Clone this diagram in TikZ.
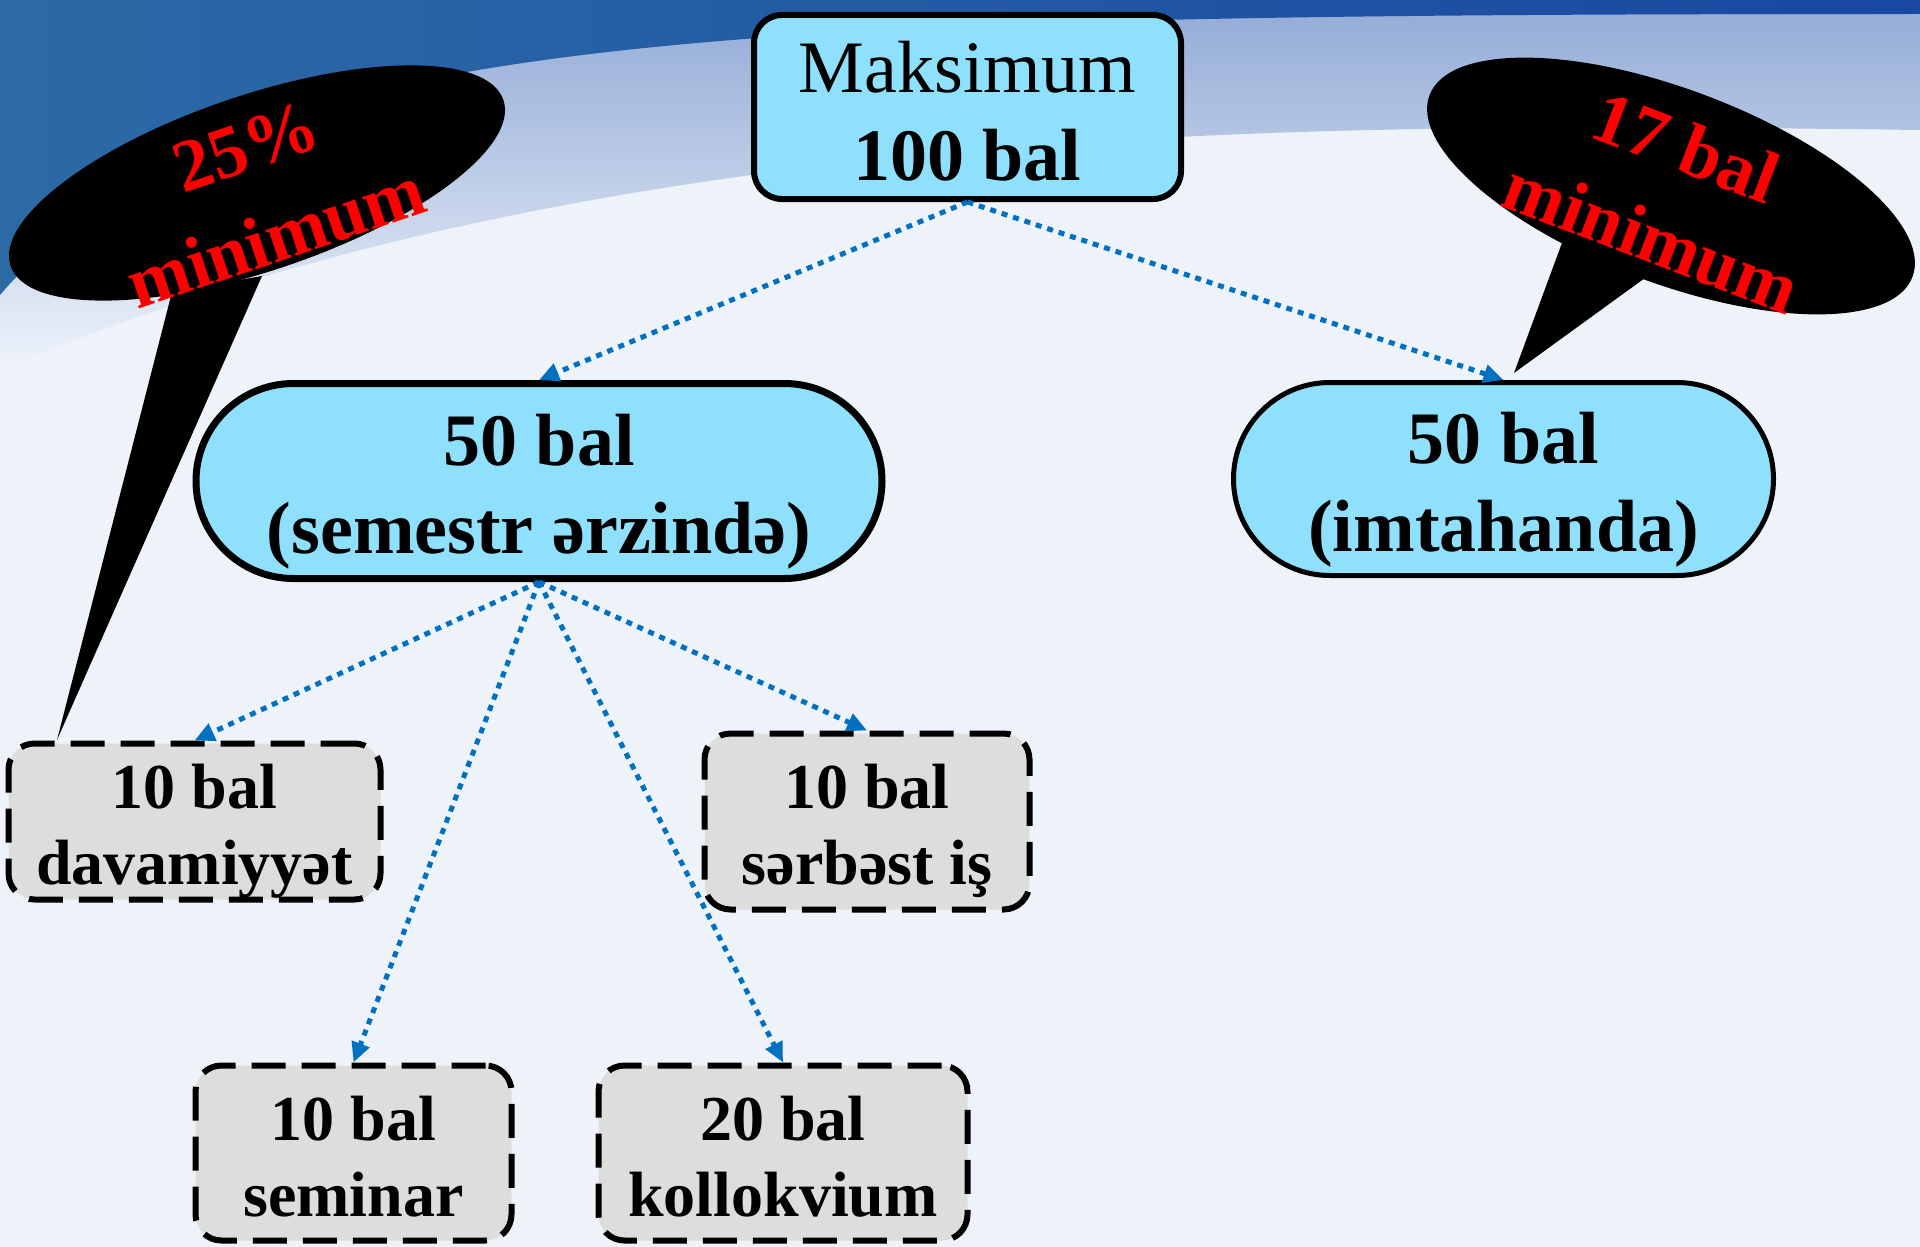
\documentclass[tikz,border=0pt]{standalone}
\usepackage{fontspec}
\setmainfont{Liberation Serif}
\usepackage{xcolor}
\usetikzlibrary{arrows.meta,shapes.misc}

\definecolor{pillcyan}{RGB}{142,224,253}
\definecolor{boxgray}{RGB}{221,221,221}
\definecolor{linkblue}{RGB}{0,112,192}
\definecolor{pagebg}{RGB}{238,243,250}
\definecolor{bandblue}{RGB}{146,170,214}
\definecolor{deepblue}{RGB}{24,72,162}
\definecolor{tealblue}{RGB}{44,106,166}

\begin{document}
\begin{tikzpicture}[x=1pt, y=-1pt,
            topbox/.style={draw, line width=6pt, fill=pillcyan, rounded corners=28pt, minimum width=427pt, minimum height=184pt, inner sep=0pt, text height=146pt, text depth=0pt, align=center, font=\fontsize{74}{88}\selectfont},
            pill/.style={draw, rounded rectangle, fill=pillcyan, inner sep=0pt, text height=144pt, text depth=0pt, align=center, font=\fontsize{74}{88}\selectfont\bfseries},
            partbox/.style={draw, line width=6pt, dash pattern=on 34pt off 16pt, fill=boxgray, rounded corners=26pt, inner sep=0pt, text height=126pt, text depth=0pt, align=center, font=\fontsize{64}{76}\selectfont\bfseries},
            link/.style={draw=linkblue, line width=5pt, dash pattern=on 6pt off 6pt, -{Triangle[length=20pt,width=18pt]}},
            calltext/.style={text=red, align=center, inner sep=0pt, font=\fontsize{74}{96}\selectfont\bfseries}
            ]
            \useasboundingbox (0,0) rectangle (1920,1247);

            % Background
            \fill[pagebg] (0,0) rectangle (1920,1247);
            \shade[top color=bandblue, middle color=bandblue!80!pagebg, bottom color=pagebg] (0,0) -- (1920,0) -- (1920,130) .. controls (1300,122) and (600,118) .. (0,370) -- cycle;
            \shade[left color=tealblue, right color=deepblue] (0,0) -- (1920,0) -- (1920,14) .. controls (1200,14) and (750,20) .. (450,75) .. controls (250,115) and (80,200) .. (0,295) -- cycle;

            % Callouts
            \coordinate (lowtip) at (57,740);
            \coordinate (examtip) at (1514,373);
            \fill (172,292) -- (lowtip) -- (262,276) -- cycle;
            \fill (1566,232) -- (examtip) -- (1656,270) -- cycle;
            \fill[rotate around={18.6:(257,183)}] (257,183) ellipse [x radius=260pt, y radius=88pt];
            \fill[rotate around={-20.6:(1671,186)}] (1671,186) ellipse [x radius=258pt, y radius=97pt];
            \node[calltext, rotate=18.6] (lowpct) at (261,192) {25\%\\minimum};
            \node[calltext, rotate=-21] (lowexam) at (1669,192) {17 bal\\minimum};

            % Nodes with manual coordinates
            \node[topbox] (max) at (967.5,107) {Maksimum\\\textbf{100 bal}};
            \node[pill, line width=7pt, minimum width=686pt, minimum height=195pt] (sem) at (539,481) {50 bal\\(semestr ərzində)};
            \node[pill, line width=5pt, minimum width=540pt, minimum height=193pt] (exam) at (1503.5,479) {50 bal\\(imtahanda)};
            \node[partbox, minimum width=372pt, minimum height=156pt] (att) at (194.5,821.5) {10 bal\\davamiyyət};
            \node[partbox, minimum width=325pt, minimum height=176pt] (indep) at (867,821.5) {10 bal\\sərbəst iş};
            \node[partbox, minimum width=316pt, minimum height=175pt] (sem1) at (353.5,1153) {10 bal\\seminar};
            \node[partbox, minimum width=369pt, minimum height=175pt] (coll) at (783,1153) {20 bal\\kollokvium};

            % Arrows
            \draw[link] (max.south) -- (sem.north);
            \draw[link] (max.south) -- (exam.north);
            \draw[link] (sem.south) -- (att.north);
            \draw[link] (sem.south) -- (sem1.north);
            \draw[link] (sem.south) -- (coll.north);
            \draw[link] (sem.south) -- (indep.north);
        \end{tikzpicture}
\end{document}
